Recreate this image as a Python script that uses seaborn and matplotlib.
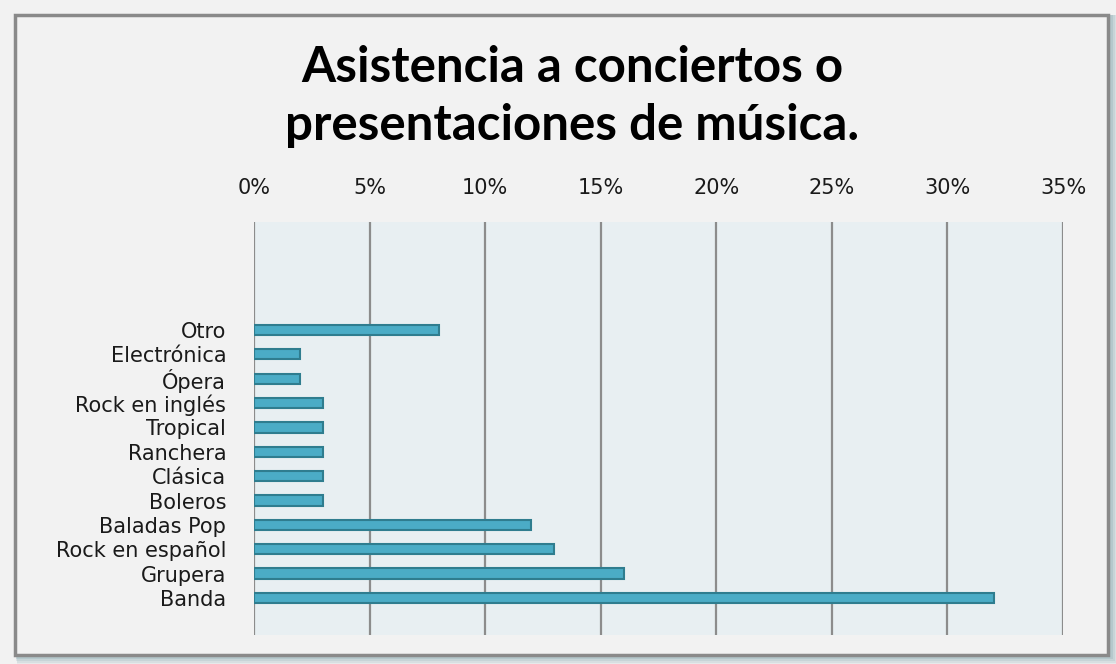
import pandas as pd
import matplotlib.pyplot as plt
import seaborn as sns
from matplotlib.patches import Rectangle
from matplotlib.ticker import PercentFormatter

# Datos
generos = ["Otro", "Electrónica", "Ópera", "Rock en inglés", "Tropical", "Ranchera",
           "Clásica", "Boleros", "Baladas Pop", "Rock en español", "Grupera", "Banda"]
porcentajes = [8, 2, 2, 3, 3, 3, 3, 3, 12, 13, 16, 32]
ticks_x = [0, 5, 10, 15, 20, 25, 30, 35]
titulo = ["Asistencia a conciertos o", "presentaciones de música."]

df = pd.DataFrame({"Genero": generos, "Porcentaje": porcentajes})

sns.set_style("white")
plt.rcParams["font.family"] = ["DejaVu Sans"]

W, H = 1116, 664
fig = plt.figure(figsize=(W / 100, H / 100), dpi=100)
fig.patch.set_facecolor("#f2f2f2")

# sombra y marco
for i, a in enumerate([0.10, 0.14, 0.18, 0.24, 0.30]):
    off = 10 - i * 2
    fig.patches.append(Rectangle(((15 + off * 0.2) / W, (H - 655 - off) / H),
                                 (1093 + off) / W, (640 + off) / H,
                                 transform=fig.transFigure, facecolor="#7fa3ad",
                                 edgecolor="none", alpha=a, zorder=0))
fig.patches.append(Rectangle((15 / W, (H - 655) / H), 1093 / W, 640 / H,
                             transform=fig.transFigure, facecolor="#f2f2f2",
                             edgecolor="#8a8a8a", linewidth=2.5, zorder=1))

ax = fig.add_axes([254 / W, (H - 635) / H, (1063 - 254) / W, (635 - 222) / H])
ax.set_zorder(2)
ax.set_facecolor("#e8eff2")

sns.barplot(data=df, y="Genero", x="Porcentaje", orient="h", ax=ax,
            color="#4bacc6", edgecolor="#2f7d8f", linewidth=1.5,
            width=0.42, saturation=1)

ax.set_xlim(0, 35)
ax.set_ylim(11 + 1.52, -4.43)
ax.set_xticks(ticks_x)
ax.xaxis.set_major_formatter(PercentFormatter(decimals=0))
ax.xaxis.tick_top()
ax.tick_params(axis="x", length=0, pad=17, labelsize=15, colors="#1a1a1a")
ax.tick_params(axis="y", length=0, pad=20, labelsize=15, colors="#1a1a1a")
ax.set_xlabel("")
ax.set_ylabel("")
ax.grid(axis="x", color="#8c8c8c", linewidth=1.6)
ax.set_axisbelow(True)
for s in ax.spines.values():
    s.set_visible(False)

for txt, y in zip(titulo, [67, 125]):
    fig.text(572 / W, 1 - y / H, txt, ha="center", va="center",
             fontsize=35.5, fontweight="bold", color="black", family="Lato")

fig.savefig("out.png", dpi=100, facecolor=fig.get_facecolor())
